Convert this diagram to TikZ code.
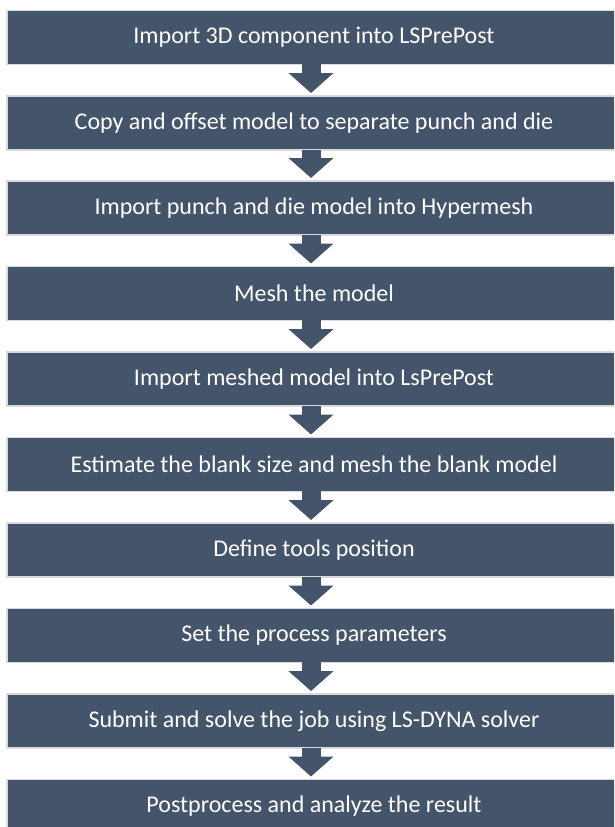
\documentclass[tikz,border=0pt]{standalone}
\usepackage{fontspec}
\setmainfont{Carlito}
\usetikzlibrary{arrows.meta}
\definecolor{boxblue}{HTML}{44546A}
\definecolor{edgegray}{HTML}{DADADA}
\tikzset{
  stepbox/.style={fill=boxblue, draw=edgegray, line width=1.5pt, minimum width=614pt, minimum height=54pt,
    inner sep=0pt, text=white, font=\fontsize{24pt}{28pt}\selectfont, anchor=north},
  flowarrow/.style={draw=boxblue, line width=19pt, -{Triangle[width=44pt,length=20pt]}, shorten >=2pt}
}
\begin{document}
\begin{tikzpicture}[x=1pt,y=1pt]
\useasboundingbox (0,0) rectangle (614,-827);
\begin{scope}
\clip (0,0) rectangle (614,-827);
\node[stepbox] (s1) at (314,-9.5) {Import 3D component into LSPrePost};
\node[stepbox] (s2) at (314,-95) {Copy and offset model to separate punch and die};
\node[stepbox] (s3) at (314,-180) {Import punch and die model into Hypermesh};
\node[stepbox] (s4) at (314,-265.5) {Mesh the model};
\node[stepbox] (s5) at (314,-351) {Import meshed model into LsPrePost};
\node[stepbox] (s6) at (314,-436.5) {Estimate the blank size and mesh the blank model};
\node[stepbox] (s7) at (314,-522) {Define tools position};
\node[stepbox] (s8) at (314,-607.5) {Set the process parameters};
\node[stepbox] (s9) at (314,-693) {Submit and solve the job using LS-DYNA solver};
\node[stepbox] (s10) at (314,-778.5) {Postprocess and analyze the result};
\foreach \a/\b in {s1/s2,s2/s3,s3/s4,s4/s5,s5/s6,s6/s7,s7/s8,s8/s9,s9/s10}{
  \draw[flowarrow] ([xshift=-3pt,yshift=0.75pt]\a.south) -- ([xshift=-3pt]\b.north);
}
\end{scope}
\end{tikzpicture}
\end{document}
